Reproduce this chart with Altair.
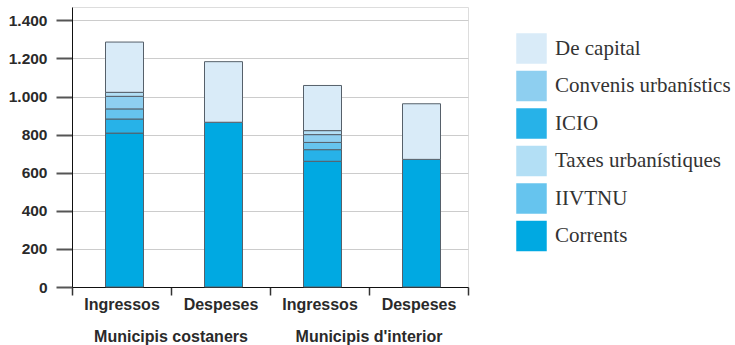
import altair as alt
import pandas as pd

# Budget composition of coastal vs inland municipalities (stacked, in euros per inhabitant)
groups = ["Municipis costaners", "Municipis costaners", "Municipis d'interior", "Municipis d'interior"]
kinds = ["Ingressos", "Despeses", "Ingressos", "Despeses"]

corrents = [808, 865, 660, 670]
icio = [74, 0, 61, 0]
iivtnu = [53, 0, 38, 0]
convenis = [66, 0, 41, 0]
taxes = [21, 0, 21, 0]
capital = [264, 318, 237, 292]

# stacking order, bottom to top
series = [
    ("Corrents", corrents),
    ("ICIO", icio),
    ("IIVTNU", iivtnu),
    ("Convenis urbanístics", convenis),
    ("Taxes urbanístiques", taxes),
    ("De capital", capital),
]

legend_order = ["De capital", "Convenis urbanístics", "ICIO",
                "Taxes urbanístiques", "IIVTNU", "Corrents"]
legend_colors = ["#d9ebf8", "#8ecff0", "#27b2e8", "#b3dff5", "#66c4ee", "#00a9e2"]

y_ticks = [0, 200, 400, 600, 800, 1000, 1200, 1400]

rows = []
for rank, (name, vals) in enumerate(series):
    for g, k, v in zip(groups, kinds, vals):
        if v > 0:
            rows.append({"key": f"{g}|{k}", "serie": name, "valor": v, "rank": rank})
df = pd.DataFrame(rows)
keys = [f"{g}|{k}" for g, k in zip(groups, kinds)]

group_df = pd.DataFrame({
    "grup": ["Municipis costaners", "Municipis d'interior"],
    "key": [keys[1], keys[3]],
})

W, H = 396, 280
SANS = "Liberation Sans"

x_enc = alt.X(
    "key:N",
    sort=keys,
    scale=alt.Scale(domain=keys, paddingInner=0, paddingOuter=0),
    axis=alt.Axis(
        title=None,
        labelExpr="split(datum.label, '|')[1]",
        labelAngle=0,
        labelFont=SANS,
        labelFontWeight="bold",
        labelFontSize=16,
        labelColor="#2a2a2a",
        labelPadding=1,
        tickBand="extent",
        tickSize=8,
        tickWidth=1.5,
        tickColor="#333333",
        domainColor="#111111",
        domainWidth=1,
        grid=False,
    ),
)

bars = alt.Chart(df).mark_bar(
    width=38, xOffset=3, stroke="#56606a", strokeWidth=1
).encode(
    x=x_enc,
    y=alt.Y(
        "sum(valor):Q",
        stack="zero",
        scale=alt.Scale(domain=[0, 1470], nice=False),
        axis=alt.Axis(
            title=None,
            values=y_ticks,
            labelExpr="replace(format(datum.value, ','), ',', '.')",
            labelFont=SANS,
            labelFontWeight="bold",
            labelFontSize=15.5,
            labelColor="#2a2a2a",
            labelPadding=9,
            tickSize=16,
            tickWidth=2,
            tickColor="#555555",
            domainColor="#111111",
            domainWidth=1,
            grid=True,
            gridColor="#cccccc",
            gridWidth=1,
        ),
    ),
    color=alt.Color(
        "serie:N",
        scale=alt.Scale(domain=legend_order, range=legend_colors),
        legend=alt.Legend(
            title=None,
            orient="none",
            legendX=444,
            legendY=26,
            padding=0,
            symbolType="square",
            symbolSize=930,
            symbolStrokeWidth=0,
            symbolOpacity=1,
            rowPadding=6.5,
            labelFont="Liberation Serif",
            labelFontSize=21,
            labelColor="#333333",
            labelOffset=8,
            labelLimit=300,
        ),
    ),
    order=alt.Order("rank:Q", sort="ascending"),
)

group_labels = alt.Chart(group_df).mark_text(
    font=SANS, fontWeight="bold", fontSize=16, color="#2a2a2a",
    align="center", baseline="alphabetic",
).encode(
    x=alt.X("key:N", sort=keys, bandPosition=0),
    y=alt.value(H + 54.5),
    text="grup:N",
)

chart = alt.layer(bars, group_labels).properties(
    width=W,
    height=H,
    autosize=alt.AutoSizeParams(type="none"),
    padding={"left": 72, "top": 7, "right": 735 - 72 - W, "bottom": 345 - 7 - H},
).configure_view(stroke=None).configure(background="white")

chart.save("out.html", embed_options={"renderer": "svg", "actions": False})
